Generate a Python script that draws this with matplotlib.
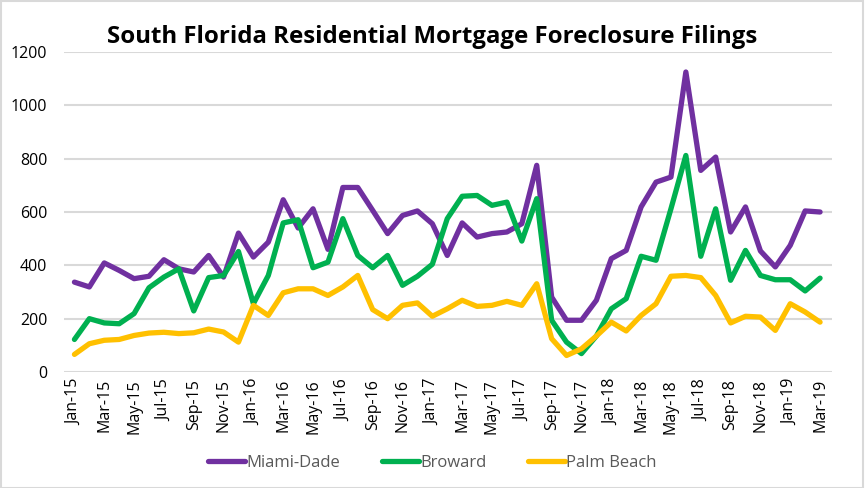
import matplotlib
matplotlib.use("Agg")
import matplotlib.pyplot as plt
from matplotlib.patches import Rectangle

months = ["Jan", "Feb", "Mar", "Apr", "May", "Jun", "Jul", "Aug", "Sep", "Oct", "Nov", "Dec"]
labels = [f"{m}-{y}" for y in ["15", "16", "17", "18"] for m in months] + ["Jan-19", "Feb-19", "Mar-19"]

miami = [337, 319, 409, 381, 350, 359, 421, 387, 375, 437, 356, 521,
         431, 487, 646, 540, 612, 460, 692, 692, 606, 519, 587, 604,
         556, 437, 559, 506, 519, 525, 556, 775, 281, 194, 194, 269,
         425, 456, 619, 712, 731, 1125, 756, 806, 525, 619, 454, 394,
         475, 604, 600]
broward = [122, 200, 184, 181, 219, 316, 356, 387, 229, 354, 362, 452,
           256, 362, 559, 571, 391, 412, 575, 437, 391, 437, 325, 359,
           404, 575, 659, 662, 625, 637, 491, 650, 194, 112, 69, 135,
           237, 275, 434, 419, 612, 812, 434, 612, 344, 456, 362, 346,
           346, 304, 352]
palm = [66, 106, 119, 122, 137, 146, 149, 144, 147, 161, 150, 112,
        250, 212, 297, 312, 312, 287, 319, 362, 234, 200, 250, 259,
        209, 237, 269, 246, 250, 265, 250, 331, 125, 62, 87, 135,
        187, 154, 212, 256, 359, 362, 354, 287, 184, 209, 206, 156,
        256, 225, 187]

series = [("Miami-Dade", miami, "#7030A0"),
          ("Broward", broward, "#00B050"),
          ("Palm Beach", palm, "#FFC000")]

fig = plt.figure(figsize=(8.65, 4.88), dpi=100)
fig.patches.append(Rectangle((0.001, 0.001), 0.997, 0.997, transform=fig.transFigure,
                             fill=False, edgecolor="#D9D9D9", linewidth=1.5))
ax = fig.add_axes([64/865, 1 - 372/488, (832-64)/865, (372-52)/488])

x = list(range(len(labels)))
for name, vals, col in series:
    ax.plot(x, vals, color=col, linewidth=3.8, label=name, solid_joinstyle="round",
            solid_capstyle="round")

ax.set_ylim(0, 1200)
ax.set_yticks(range(0, 1201, 200))
ax.set_xlim(-0.7, 50.8)
ax.set_xticks(x[::2])
ax.set_xticklabels(labels[::2], rotation=90, fontsize=11.5, family="Open Sans")
for t in ax.get_yticklabels():
    t.set_fontsize(11.5)
    t.set_family("Open Sans")
ax.grid(axis="y", color="#D9D9D9", linewidth=1.5)
ax.set_axisbelow(True)
for s in ax.spines.values():
    s.set_visible(False)
ax.tick_params(axis="y", length=0, pad=12, colors="black")
ax.tick_params(axis="x", length=0, pad=5, colors="black")

fig.text(0.5, 1 - 37/488, "South Florida Residential Mortgage Foreclosure Filings",
         ha="center", va="center", fontsize=17.3, fontweight="bold", family="Open Sans")

leg = fig.legend(loc="center", bbox_to_anchor=(0.5, 1 - 463/488), ncol=3, frameon=False,
                 handlelength=2.2, columnspacing=2.5, handletextpad=0.1,
                 prop={"family": "Open Sans", "size": 12})
for t in leg.get_texts():
    t.set_color("#595959")

fig.savefig("out.png", dpi=100)
